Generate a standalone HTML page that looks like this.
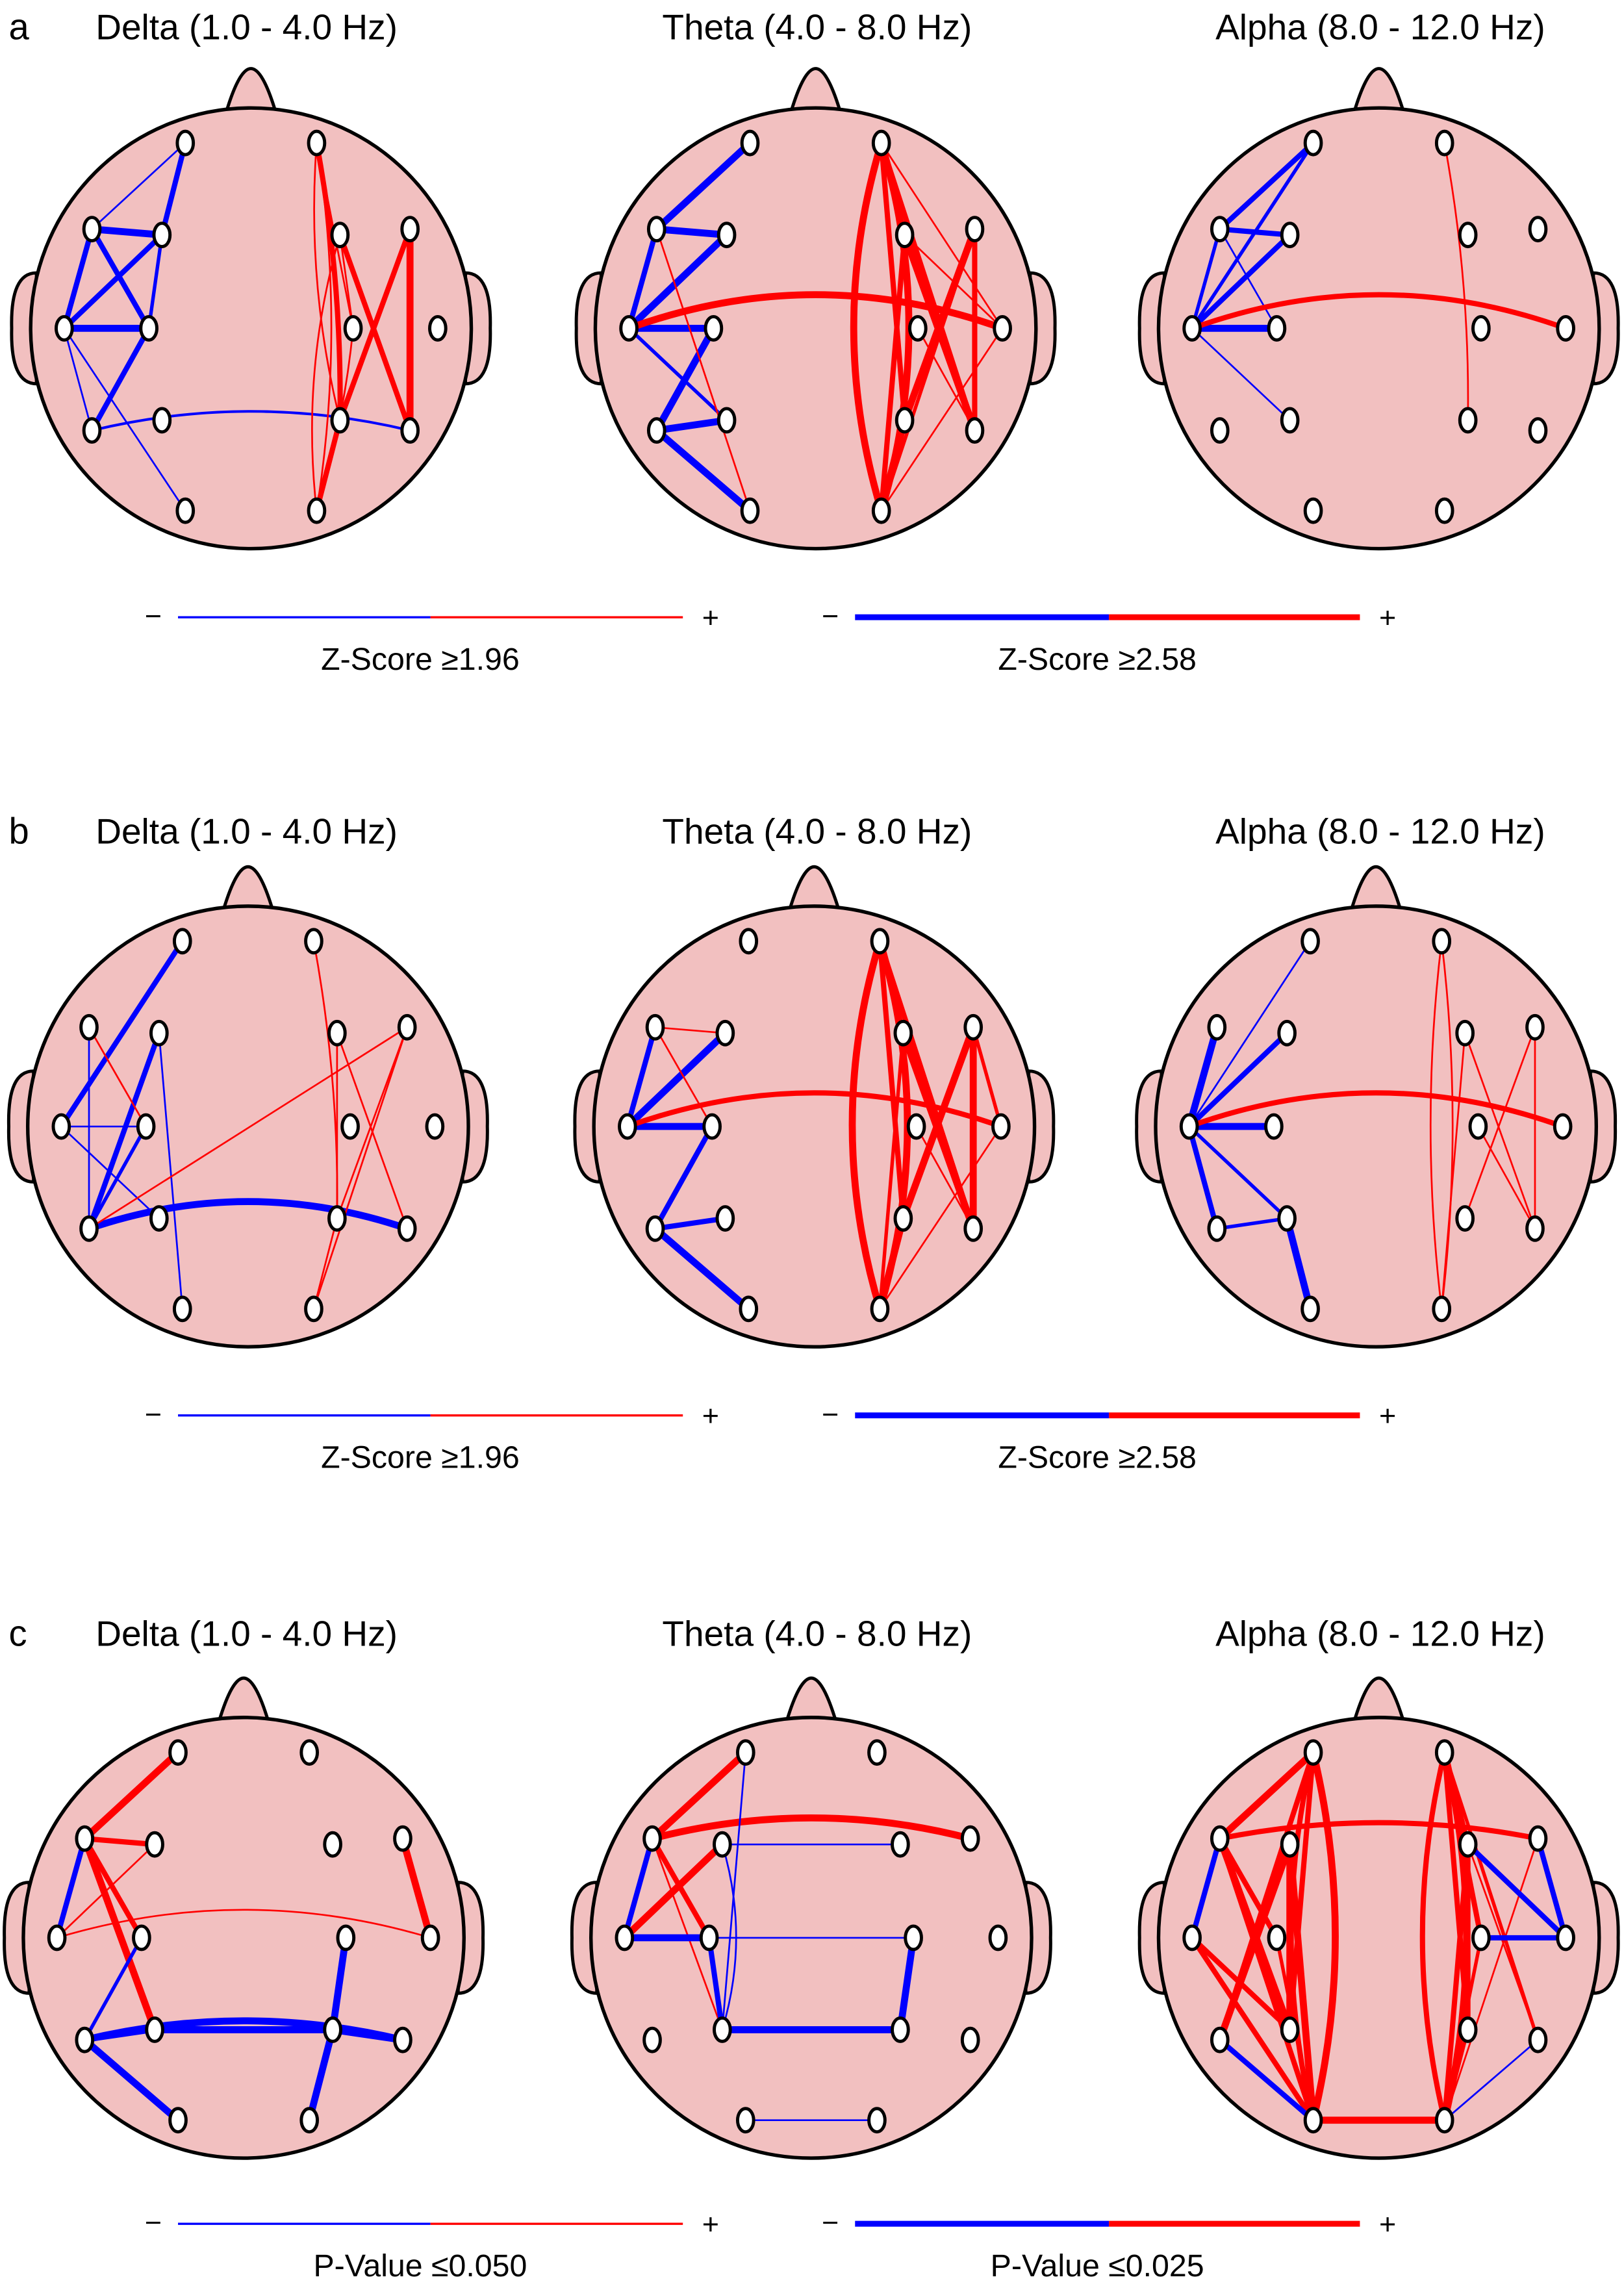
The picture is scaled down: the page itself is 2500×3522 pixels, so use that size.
<!DOCTYPE html>
<html><head><meta charset="utf-8"><style>
html,body{margin:0;padding:0;background:#fff}
svg{display:block}
text{font-family:"Liberation Sans",sans-serif;fill:#000}
</style></head><body>
<svg id="fig" width="2500" height="3522" viewBox="0 0 1113 1568" preserveAspectRatio="none" xmlns="http://www.w3.org/2000/svg"></svg>
<script>
// Electrode labels (10-20 system) and their relative scalp positions
const electrodes = ["Fp1","Fp2","F7","F3","F4","F8","T3","C3","C4","T4","T5","P3","P4","T6","O1","O2"];
const panelLetters = ["a","b","c"];
const bandTitles = ["Delta (1.0 - 4.0 Hz)","Theta (4.0 - 8.0 Hz)","Alpha (8.0 - 12.0 Hz)"];
const legendLabels = [["Z-Score \u22651.96","Z-Score \u22652.58"],["Z-Score \u22651.96","Z-Score \u22652.58"],["P-Value \u22640.050","P-Value \u22640.025"]];
// connections: [from, to, sign(+1 red / -1 blue), weight, bend]
const conn_a_delta = [[0,2,-1,1,0],[0,3,-1,3,0],[2,3,-1,4,0],[2,6,-1,3,0],[2,7,-1,3,0],[3,6,-1,3,0],[3,7,-1,2,0],[6,7,-1,4,0],[6,10,-1,1,0],[7,10,-1,3,0],[6,14,-1,1,0],[10,13,-1,1.5,0.12],
 [1,12,1,3,0.05],[1,15,1,1,0.08],[1,12,1,1,-0.08],[5,13,1,4,0],[5,12,1,3,0],[4,13,1,3,0],[12,15,1,3,0],[4,8,1,1,0],[1,8,1,1,0],[8,15,1,1,0.05],[4,15,1,1,-0.1]];
const conn_a_theta = [[0,2,-1,4,0],[2,3,-1,4,0],[2,6,-1,3,0],[3,6,-1,4,0],[6,7,-1,4,0],[7,10,-1,4,0],[10,11,-1,4,0],[10,14,-1,4,0],[6,11,-1,2,0],[2,14,1,1,0],[6,9,1,4,0.18],
 [1,15,1,4,0.15],[1,15,1,4,-0.15],[1,12,1,3,0],[1,4,1,3,0],[1,13,1,3,0],[4,13,1,4,0],[5,12,1,4,0],[5,13,1,3,0],[4,15,1,3,0],[5,15,1,2,0],[12,15,1,4,0],[4,9,1,1,0],[8,13,1,1,0],[1,9,1,1,0],[9,15,1,1,0]];
const conn_a_alpha = [[0,2,-1,3,0],[2,3,-1,3,0],[2,6,-1,2,0],[3,6,-1,3,0],[6,7,-1,4,0],[6,11,-1,1,0],[0,6,-1,2,0],[2,7,-1,1,0],[6,9,1,3,0.18],[1,12,1,1,0.05]];
const conn_b_delta = [[0,6,-1,3,0],[6,7,-1,1,0],[6,11,-1,1,0],[3,10,-1,3,0],[7,10,-1,2,0],[10,13,-1,4,0.17],[3,14,-1,1,0],[2,10,-1,1,0],[2,7,1,1,0],
 [1,12,1,1,0.05],[4,12,1,1,0],[5,10,1,1,0],[5,15,1,1,0],[5,12,1,1,0],[4,13,1,1,0],[12,15,1,1,0]];
const conn_b_theta = [[2,6,-1,3,0],[3,6,-1,4,0],[6,7,-1,4,0],[7,10,-1,3,0],[10,11,-1,3,0],[10,14,-1,4,0],[2,3,1,1,0],[2,7,1,1,0],[6,9,1,3,0.18],
 [1,15,1,4,0.15],[1,15,1,4,-0.15],[1,12,1,3,0],[1,4,1,3,0],[1,13,1,3,0],[4,13,1,4,0],[5,12,1,4,0],[5,13,1,4,0],[4,15,1,2,0],[12,15,1,4,0],[5,9,1,2,0],[8,13,1,1,0],[9,15,1,1,0]];
const conn_b_alpha = [[0,6,-1,1,0],[2,6,-1,4,0],[3,6,-1,3,0],[6,7,-1,4,0],[6,11,-1,2,0],[6,10,-1,3,0],[10,11,-1,2,0],[11,14,-1,4,0],[6,9,1,3,0.18],
 [1,15,1,1,0.06],[1,15,1,1,-0.06],[4,13,1,1,0],[5,12,1,1,0],[5,13,1,1,0],[4,15,1,1,0],[8,13,1,1,0]];
const conn_c_delta = [[2,0,1,4,0],[2,3,1,3,0],[2,11,1,4,0],[2,7,1,3,0],[3,6,1,1,0],[6,9,1,1,0.15],[5,9,1,4,0],
 [2,6,-1,3,0],[10,13,-1,4,0.12],[11,12,-1,4,0],[12,13,-1,4,0],[10,11,-1,3,0],[10,14,-1,4,0],[8,12,-1,4,0],[12,15,-1,4,0],[10,7,-1,2,0]];
const conn_c_theta = [[2,0,1,4,0],[2,5,1,4,0.13],[2,7,1,3,0],[3,6,1,4,0],[2,11,1,1,0],
 [2,6,-1,3,0],[6,7,-1,4,0],[0,11,-1,1,0],[3,11,-1,1,0.15],[3,4,-1,1,0],[7,8,-1,1,0],[11,12,-1,4,0],[8,12,-1,4,0],[14,15,-1,1,0],[7,11,-1,3,0]];
const conn_c_alpha = [[2,0,1,4,0],[2,5,1,3,0.1],[0,14,1,4,0.12],[0,14,1,3,-0.12],[0,11,1,3,0],[0,10,1,3,0],[2,11,1,4,0],[2,14,1,3,0],[3,14,1,4,0],[3,10,1,4,0],[2,7,1,3,0],[6,14,1,3,0],[3,11,1,4,0],[14,15,1,4,0],[6,11,1,3,0],[7,14,1,2,0],
 [1,15,1,4,0.12],[1,15,1,3,-0.12],[1,12,1,3,0],[1,13,1,2,0],[4,15,1,3,0],[4,12,1,3,0],[1,8,1,3,0],[5,15,1,1,0],[4,13,1,1,0],[12,15,1,2,0],[8,15,1,2,0],[1,4,1,3,0],
 [10,14,-1,3,0],[2,6,-1,3,0],[5,9,-1,3,0],[8,9,-1,3,0],[4,9,-1,3,0],[13,15,-1,1,0]];
const allConn = [[conn_a_delta,conn_a_theta,conn_a_alpha],[conn_b_delta,conn_b_theta,conn_b_alpha],[conn_c_delta,conn_c_theta,conn_c_alpha]];

const relX = [-45,45,-109,-61,61,109,-128,-70,70,128,-109,-61,61,109,-45,45];
const relY = [-127,-127,-68,-64,-64,-68,0,0,0,0,70,63,63,70,125,125];
const svg = document.getElementById('fig');
const NS = 'http://www.w3.org/2000/svg';
function mk(tag, attrs, parent){const e=document.createElementNS(NS,tag);for(const k in attrs)e.setAttribute(k,attrs[k]);(parent||svg).appendChild(e);return e;}

const rowY = [225, 772, 1328];
const colX = [[172,559,945],[170,558,943],[167,556,945]];
const titleY = [27, 578, 1128];
const legY = [423, 970, 1524];

for(let r=0;r<3;r++){
  const L = mk('text',{x:6,y:titleY[r],'font-size':25});
  L.textContent = panelLetters[r];
  
  
  for(let c=0;c<3;c++){
    const cx=colX[r][c], cy=rowY[r];
    const t = mk('text',{x:[169,560,946][c],y:titleY[r],'font-size':24.5,'text-anchor':'middle'});
    t.textContent = bandTitles[c];
    
    
    const g = mk('g',{});
    
    
    mk('path',{d:`M${cx-17},${cy-148} Q${cx-8},${cy-178} ${cx},${cy-178} Q${cx+8},${cy-178} ${cx+17},${cy-148} Z`,fill:'#f2c0c0',stroke:'#000','stroke-width':2.2},g);
    mk('path',{d:`M${cx-147},${cy-38} Q${cx-165},${cy-38} ${cx-164},${cy} Q${cx-165},${cy+38} ${cx-147},${cy+38} Z`,fill:'#f2c0c0',stroke:'#000','stroke-width':2.2},g);
    mk('path',{d:`M${cx+147},${cy-38} Q${cx+165},${cy-38} ${cx+164},${cy} Q${cx+165},${cy+38} ${cx+147},${cy+38} Z`,fill:'#f2c0c0',stroke:'#000','stroke-width':2.2},g);
    mk('circle',{cx:cx,cy:cy,r:151,fill:'#f2c0c0',stroke:'#000','stroke-width':2.4},g);
    for(const k of allConn[r][c]){
      const x1=cx+relX[k[0]], y1=cy+relY[k[0]], x2=cx+relX[k[1]], y2=cy+relY[k[1]];
      const mx=(x1+x2)/2, my=(y1+y2)/2, dx=x2-x1, dy=y2-y1;
      const qx=mx+dy*k[4], qy=my-dx*k[4];
      const p = mk('path',{d:`M${x1},${y1} Q${qx},${qy} ${x2},${y2}`,fill:'none',stroke:k[2]>0?'#ff0000':'#0000ff','stroke-width':k[3]*1.2},g);
      
      
    }
    for(let i=0;i<16;i++){
      const e = mk('ellipse',{cx:cx+relX[i],cy:cy+relY[i],rx:5.5,ry:8,fill:'#fff',stroke:'#000','stroke-width':2.2},g);
      
      
    }
  }
  const legs = [[105,122,295,468,487,288,1.5],[569,586,760,932,951,752,4]];
  for(let j=0;j<2;j++){
    const [mx,b1,mid,b2,px,tx,w]=legs[j];
    const y=legY[r];
    const lg = mk('g',{});
    
    
    const m = mk('text',{x:mx,y:y+6,'font-size':20,'text-anchor':'middle'},lg); m.textContent='\u2212';
    mk('line',{x1:b1,y1:y,x2:mid,y2:y,stroke:'#0000ff','stroke-width':w},lg);
    mk('line',{x1:mid,y1:y,x2:b2,y2:y,stroke:'#ff0000','stroke-width':w},lg);
    const p = mk('text',{x:px,y:y+7,'font-size':20,'text-anchor':'middle'},lg); p.textContent='+';
    const tt = mk('text',{x:tx,y:y+36,'font-size':21.5,'text-anchor':'middle'},lg); tt.textContent=legendLabels[r][j];
  }
}
</script>
</body></html>
